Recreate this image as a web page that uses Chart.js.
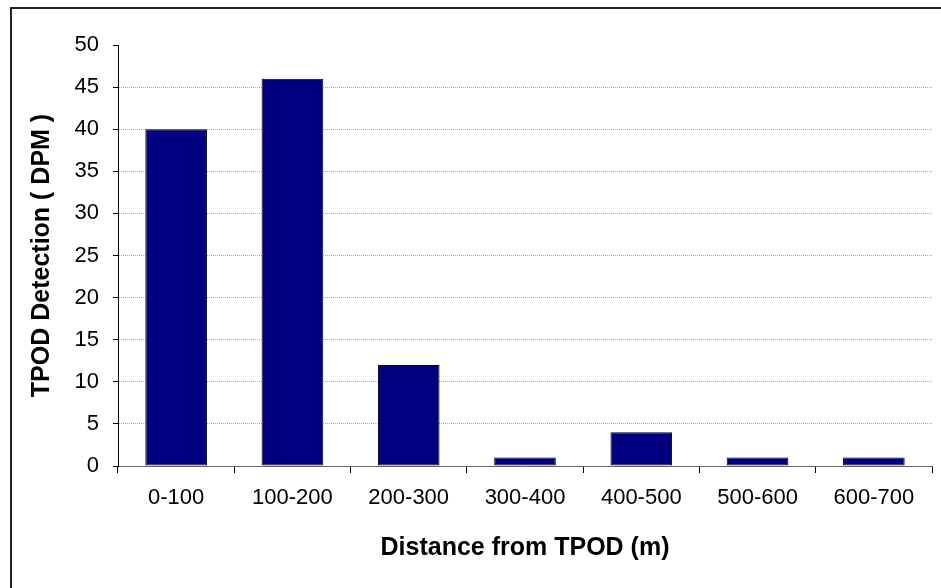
<!DOCTYPE html>
<html>
<head>
<meta charset="utf-8">
<script src="https://cdn.jsdelivr.net/npm/chart.js@4/dist/chart.umd.min.js"></script>
<style>
  html, body { margin: 0; padding: 0; background: #fff; overflow: hidden; }
  #frame { position: absolute; left: 10px; top: 7px; width: 1000px; height: 700px; border: 2px solid #222; }
  #chart { position: absolute; left: 0; top: 0; }
</style>
</head>
<body>
<div id="frame"></div>
<canvas id="chart" width="941" height="588"></canvas>
<script>
// distance bins and detections
const distanceBins = ['0-100', '100-200', '200-300', '300-400', '400-500', '500-600', '600-700'];
const detections = [40, 46, 12, 1, 4, 1, 1];
const yTicks = [0, 5, 10, 15, 20, 25, 30, 35, 40, 45, 50];

const font = 'Liberation Sans, Arial, sans-serif';

new Chart(document.getElementById('chart'), {
  type: 'bar',
  data: {
    labels: distanceBins,
    datasets: [{
      data: detections,
      backgroundColor: '#000080',
      borderColor: '#000',
      borderWidth: 1,
      borderSkipped: false,
      categoryPercentage: 1,
      barPercentage: 0.53
    }]
  },
  options: {
    responsive: false,
    animation: false,
    layout: { padding: { left: 0, top: 45, right: 9, bottom: 0 } },
    plugins: { legend: { display: false }, tooltip: { enabled: false } },
    scales: {
      x: {
        afterFit: s => { s.height = 122; },
        grid: { drawOnChartArea: false, tickLength: 7, tickColor: '#000', offset: true },
        border: { display: true, color: '#666', width: 1 },
        ticks: { color: '#000', font: { family: font, size: 22 }, padding: 12, maxRotation: 0 },
        title: {
          display: true, text: 'Distance from TPOD (m)', color: '#000',
          font: { family: font, size: 25, weight: 'bold' },
          padding: { top: 0, bottom: 25 }
        }
      },
      y: {
        min: 0, max: 50,
        afterFit: s => { s.width = 118; },
        afterBuildTicks: s => { s.ticks = yTicks.map(v => ({ value: v })); },
        grid: {
          // no gridline at 0 and 50, only the tick mark
          color: c => (c.tick && (c.tick.value === 0 || c.tick.value === 50)) ? 'rgba(0,0,0,0)' : '#aaa',
          tickColor: '#000', tickLength: 5, lineWidth: 1
        },
        border: { display: true, color: '#000', width: 1, dash: [1, 1] },
        ticks: { color: '#000', font: { family: font, size: 22 }, padding: 14 },
        title: {
          display: true, text: 'TPOD Detection ( DPM )', color: '#000',
          font: { family: font, size: 25, weight: 'bold' },
          padding: { top: 27, bottom: 0 }
        }
      }
    }
  }
});
</script>
</body>
</html>
